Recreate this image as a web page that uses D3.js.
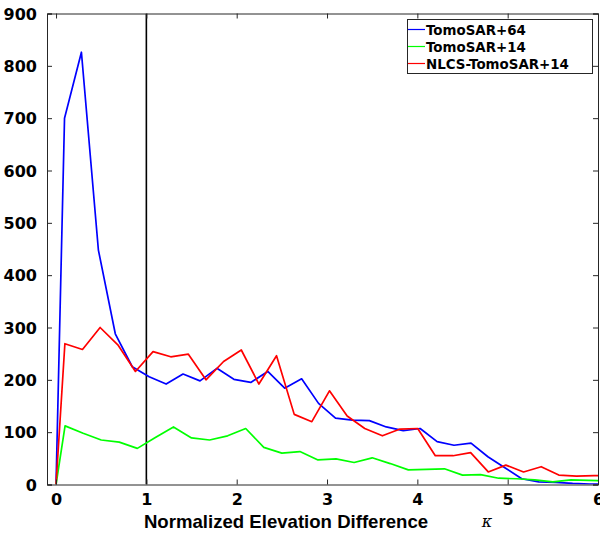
<!DOCTYPE html>
<html>
<head>
<meta charset="utf-8">
<script src="https://cdn.jsdelivr.net/npm/d3@7"></script>
<style>
  body { margin: 0; background: #fff; }
  svg { display: block; }
  text { font-family: "DejaVu Sans", sans-serif; font-weight: bold; fill: #000; }
</style>
</head>
<body>
<svg id="chart"></svg>
<script>
// series data
const seriesNames = ["TomoSAR+64", "TomoSAR+14", "NLCS-TomoSAR+14"];

const blueX = [0, 0.094, 0.281, 0.469, 0.656, 0.844, 1.031, 1.219, 1.406, 1.594, 1.781, 1.969,
  2.156, 2.344, 2.531, 2.719, 2.906, 3.094, 3.281, 3.469, 3.656, 3.844, 4.031, 4.219, 4.406,
  4.594, 4.781, 4.969, 5.156, 5.344, 5.531, 5.719, 5.906, 6.094];
const blueY = [0, 700, 826, 448, 288, 225, 206, 192, 211, 198, 222, 201, 195, 216, 184, 202,
  155, 127, 123, 122, 110, 103, 107, 82, 75, 79, 53, 32, 11, 5, 4, 2, 1, 1];

const greenX = [0, 0.1, 0.3, 0.5, 0.7, 0.9, 1.1, 1.3, 1.5, 1.7, 1.9, 2.1, 2.3, 2.5, 2.7, 2.9,
  3.1, 3.3, 3.5, 3.7, 3.9, 4.1, 4.3, 4.5, 4.7, 4.9, 5.1, 5.3, 5.5, 5.7, 5.9, 6.1];
const greenY = [0, 112, 98, 85, 81, 69, 90, 110, 89, 85, 93, 107, 71, 60, 63, 47, 49, 42, 51,
  40, 28, 29, 30, 18, 19, 12, 11, 9, 5, 9, 8, 7];

const redX = [0, 0.098, 0.293, 0.488, 0.684, 0.879, 1.074, 1.27, 1.465, 1.66, 1.855, 2.051,
  2.246, 2.441, 2.637, 2.832, 3.027, 3.223, 3.418, 3.613, 3.809, 4.004, 4.199, 4.395, 4.59,
  4.785, 4.98, 5.176, 5.371, 5.566, 5.762, 5.957, 6.152];
const redY = [0, 269, 258, 300, 267, 216, 254, 244, 249, 200, 235, 257, 192, 246, 134, 120,
  179, 131, 107, 93, 106, 107, 55, 55, 61, 24, 37, 24, 34, 18, 16, 17, 17];

const xTicks = [0, 1, 2, 3, 4, 5, 6];
const yTicks = [0, 100, 200, 300, 400, 500, 600, 700, 800, 900];
const markerX = 1;

const W = 600, H = 533;
const plotLeft = 47, plotRight = 598, plotTop = 13.5, plotBottom = 484.5;
const axisColor = "#262626";

const svg = d3.select("#chart").attr("width", W).attr("height", H);

const x = d3.scaleLinear().domain([-0.1, 6]).range([plotLeft, plotRight]);
const y = d3.scaleLinear().domain([0, 900]).range([plotBottom, plotTop]);

// clip lines to the plot box
svg.append("defs").append("clipPath").attr("id", "plot-clip")
  .append("rect")
  .attr("x", plotLeft).attr("y", plotTop)
  .attr("width", plotRight - plotLeft).attr("height", plotBottom - plotTop);

const series = [
  {name: seriesNames[0], xs: blueX, ys: blueY, color: "#0000ff"},
  {name: seriesNames[1], xs: greenX, ys: greenY, color: "#00ff00"},
  {name: seriesNames[2], xs: redX, ys: redY, color: "#ff0000"}
];

const line = d3.line().x(d => x(d[0])).y(d => y(d[1]));

const g = svg.append("g").attr("clip-path", "url(#plot-clip)");

// vertical marker at kappa = 1
g.append("line")
  .attr("x1", x(markerX)).attr("x2", x(markerX))
  .attr("y1", y(0)).attr("y2", y(900))
  .attr("stroke", "#000").attr("stroke-width", 1.6);

g.selectAll(".series")
  .data(series)
  .enter().append("path")
  .attr("class", "series")
  .attr("fill", "none")
  .attr("stroke", d => d.color)
  .attr("stroke-width", 1.7)
  .attr("stroke-linejoin", "round")
  .attr("d", d => line(d.xs.map((v, i) => [v, d.ys[i]])));

// axes, MATLAB style: box with inward ticks on all sides
const tickLen = 5;
const bottomAxis = d3.axisBottom(x).tickValues(xTicks).tickSize(-tickLen).tickPadding(9).tickFormat(d3.format("d"));
const topAxis = d3.axisTop(x).tickValues(xTicks).tickSize(-tickLen).tickFormat("");
const leftAxis = d3.axisLeft(y).tickValues(yTicks).tickSize(-tickLen).tickPadding(10).tickFormat(d3.format("d"));
const rightAxis = d3.axisRight(y).tickValues(yTicks).tickSize(-tickLen).tickFormat("");

function styleAxis(sel) {
  sel.select(".domain").attr("stroke", axisColor).attr("stroke-width", 1);
  sel.selectAll(".tick line").attr("stroke", axisColor);
  sel.selectAll(".tick text")
    .attr("font-family", "DejaVu Sans, sans-serif")
    .attr("font-weight", "bold")
    .attr("font-size", 16)
    .attr("fill", "#000");
}

svg.append("g").attr("transform", `translate(0,${plotBottom})`).call(bottomAxis).call(styleAxis);
svg.append("g").attr("transform", `translate(0,${plotTop})`).call(topAxis).call(styleAxis);
svg.append("g").attr("transform", `translate(${plotLeft},0)`).call(leftAxis).call(styleAxis)
  .selectAll(".tick text").attr("dy", "0.36em");
svg.append("g").attr("transform", `translate(${plotRight},0)`).call(rightAxis).call(styleAxis);

// axis label
svg.append("text")
  .attr("x", 286).attr("y", 528)
  .attr("text-anchor", "middle")
  .style("font-family", "'Liberation Sans', Arial, sans-serif")
  .attr("font-size", 18.6)
  .text("Normalized Elevation Difference");

svg.append("text")
  .attr("x", 487).attr("y", 527)
  .attr("text-anchor", "middle")
  .style("font-family", "'DejaVu Serif', serif")
  .style("font-style", "italic")
  .style("font-weight", "normal")
  .attr("font-size", 16)
  .text("κ");

// legend
const legend = svg.append("g");
legend.append("rect")
  .attr("x", 407.5).attr("y", 19.5)
  .attr("width", 185).attr("height", 54)
  .attr("fill", "#fff")
  .attr("stroke", axisColor).attr("stroke-width", 1);

const rowY = [29.5, 46.5, 63.5];
const rows = legend.selectAll(".row")
  .data(series)
  .enter().append("g")
  .attr("class", "row")
  .attr("transform", (d, i) => `translate(0,${rowY[i]})`);

rows.append("line")
  .attr("x1", 408).attr("x2", 425)
  .attr("stroke", d => d.color).attr("stroke-width", 1.2);

rows.append("text")
  .attr("x", 426).attr("y", 5)
  .attr("font-size", 13.4)
  .text(d => d.name);
</script>
</body>
</html>
